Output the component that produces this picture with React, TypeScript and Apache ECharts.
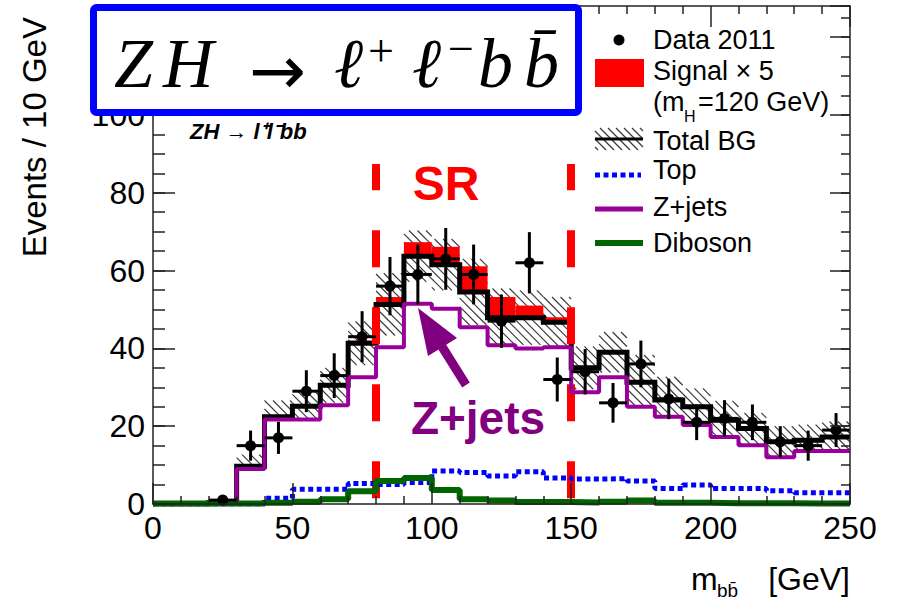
import React, { useEffect, useRef } from "react";
import * as echarts from "echarts";

// m_bb histogram, 10 GeV bins from 0 to 250 GeV
const binLow = [0, 10, 20, 30, 40, 50, 60, 70, 80, 90, 100, 110, 120, 130, 140, 150, 160, 170, 180, 190, 200, 210, 220, 230, 240];
const binWidth = 10;

const data2011 = [0, 0, 1, 15, 17, 29, 33, 43, 56, 59, 63, 59, 47, 62, 32, 34, 26, 36, 27, 21, 22, 21, 16, 15, 19];
const totalBG = [0, 0, 0.3, 9.7, 22.4, 25.1, 30.5, 41.3, 51.3, 63.7, 61.5, 54.5, 47.9, 47.9, 46.7, 35, 39, 31.3, 26.7, 25, 21.5, 19.4, 16, 16.4, 17.2];
const totalBGErr = [0, 0, 0.3, 3, 4.2, 4, 4.5, 5.6, 8, 6.6, 6.6, 8.5, 7.5, 7, 6.5, 5.5, 5.2, 7, 6, 4.7, 5, 4, 4, 4, 4];
const signalX5 = [0, 0, 0, 0, 0, 0, 0, 0.7, 1.9, 3.6, 4.6, 6.6, 5.3, 3.1, 1.3, 0, 0, 0, 0, 0, 0, 0, 0, 0, 0];
const zJets = [0, 0, 0, 9.0, 21.7, 21.7, 25.4, 32.6, 40.3, 51.5, 50.2, 45.4, 40.8, 40.0, 40.3, 28.7, 32.6, 25.0, 22.4, 20.3, 17.2, 15.1, 12.0, 13.6, 13.6];
const topBG = [0, 0, 0, 0, 1.5, 3.8, 3.8, 5.3, 5.0, 5.5, 8.5, 8.1, 7.2, 8.3, 6.7, 6.4, 6.5, 5.9, 4.0, 4.9, 4.0, 4.0, 3.4, 2.9, 2.9];
const diboson = [0.1, 0.1, 0.1, 0.1, 0.3, 0.6, 1.2, 3.3, 5.9, 6.7, 3.6, 1.2, 0.9, 0.5, 0.5, 0.4, 0.6, 0.9, 0.3, 0.3, 0.2, 0.2, 0.2, 0.1, 0.1];

// signal region boundaries (GeV) and the vertical span of their dashed markers
const srEdges = [80, 150];
const srSpan = [1.5, 87.4];

const FONT = "'Liberation Sans', Arial, Helvetica, sans-serif";
const SERIF = "'Liberation Serif', 'DejaVu Serif', serif";
const PURPLE = "#990099";
const GREEN = "#006400";
const BLUE = "#0000ff";
const RED = "#ff0000";
const AXIS = "#222";

function steps(vals: number[]): number[][] {
  const pts: number[][] = [];
  vals.forEach((v, i) => {
    pts.push([binLow[i], v]);
    pts.push([binLow[i] + binWidth, v]);
  });
  return pts;
}

// diagonal "\" hatching clipped to a pixel rectangle, anchored to a global grid
function hatchLines(xa: number, ya: number, xb: number, yb: number, step: number, style: any) {
  const out: any[] = [];
  const k0 = Math.ceil((xa - yb) / step);
  const k1 = Math.floor((xb - ya) / step);
  for (let k = k0; k <= k1; k++) {
    const c = k * step;
    const s = Math.max(xa, ya + c);
    const e = Math.min(xb, yb + c);
    if (e - s > 0.5) {
      out.push({ type: "line", shape: { x1: s, y1: s - c, x2: e, y2: e - c }, style });
    }
  }
  return out;
}

function txt(text: string, x: number, y: number, opts: any = {}) {
  const align = opts.align || "left";
  return {
    type: "text",
    z: 100,
    style: {
      text,
      x,
      y,
      fill: opts.fill || "#000",
      fontSize: opts.fontSize || 27,
      fontFamily: opts.fontFamily || FONT,
      fontStyle: opts.fontStyle || "normal",
      fontWeight: opts.fontWeight || "normal",
      align,
      textAlign: align,
      verticalAlign: "middle",
      textVerticalAlign: "middle",
    },
  };
}

function rotatedTitle(text: string, x: number, y: number, fontSize: number) {
  return {
    type: "text",
    z: 100,
    x,
    y,
    rotation: Math.PI / 2,
    style: {
      text,
      x: 0,
      y: 0,
      fill: "#000",
      fontSize,
      fontFamily: FONT,
      align: "right",
      textAlign: "right",
      verticalAlign: "middle",
      textVerticalAlign: "middle",
    },
  };
}

function buildOption() {
  const hatchStyle = { stroke: "#3a3a3a", lineWidth: 1.2 };

  const bandData = binLow.map((x, i) => [
    x,
    x + binWidth,
    Math.max(totalBG[i] - totalBGErr[i], zJets[i]),
    totalBG[i] + totalBGErr[i],
  ]);
  const signalData = binLow.map((x, i) => [x, x + binWidth, totalBG[i], totalBG[i] + signalX5[i]]);
  const pointData = binLow
    .map((x, i) => [x + binWidth / 2, data2011[i]])
    .filter((d) => d[1] > 0);

  const tickStyle = { color: AXIS, width: 1.5 };
  const baseX = {
    type: "value",
    min: 0,
    max: 250,
    interval: 50,
    z: 10,
    axisLine: { show: true, onZero: false, lineStyle: tickStyle },
    axisTick: { show: true, inside: true, length: 21, lineStyle: tickStyle },
    minorTick: { show: true, splitNumber: 5, length: 8, lineStyle: tickStyle },
    splitLine: { show: false },
    minorSplitLine: { show: false },
  };
  const baseY = {
    type: "value",
    min: 0,
    max: 128,
    z: 10,
    splitLine: { show: false },
  };

  const legendX0 = 595;
  const legendX1 = 643;
  const boxFont = { fontSize: 70, fontFamily: SERIF, fontStyle: "italic" };

  const graphic: any[] = [
    // title box
    {
      type: "rect",
      z: 90,
      shape: { x: 93.5, y: 7.5, width: 485, height: 105, r: 3 },
      style: { fill: "#fff", stroke: "#0000ff", lineWidth: 7 },
    },
    txt("Z", 114, 63, boxFont),
    txt("H", 163, 63, boxFont),
    txt("→", 249, 70, { fontSize: 68, fontFamily: "'DejaVu Sans', sans-serif" }),
    txt("ℓ", 334, 63, boxFont),
    txt("+", 381, 50, { fontSize: 46, fontFamily: SERIF, align: "center" }),
    txt("ℓ", 412, 63, boxFont),
    txt("−", 461, 48, { fontSize: 46, fontFamily: SERIF, align: "center" }),
    txt("b", 478, 63, boxFont),
    txt("b\u0304", 524, 63, boxFont),

    // process label inside the frame
    txt("ZH → l⁺l⁻bb", 190, 131, { fontSize: 22, fontStyle: "italic", fontWeight: "bold" }),

    // region annotations
    txt("SR", 446, 183, { fontSize: 48, fontWeight: "bold", fill: RED, align: "center" }),
    txt("Z+jets", 478, 418, { fontSize: 46, fontWeight: "bold", fill: "#800080", align: "center" }),
    {
      type: "line",
      z: 100,
      shape: { x1: 466, y1: 385, x2: 441, y2: 345 },
      style: { stroke: "#800080", lineWidth: 9 },
    },
    {
      type: "polygon",
      z: 100,
      shape: { points: [[418, 308], [457, 338], [428, 356]] },
      style: { fill: "#800080" },
    },

    // axis titles
    rotatedTitle("Events / 10 GeV", 34, 17, 33),
    txt("m", 691, 579, { fontSize: 32 }),
    txt("bb\u0304", 717, 590, { fontSize: 19 }),
    txt("[GeV]", 850, 579, { fontSize: 32, align: "right" }),

    // legend
    { type: "circle", z: 100, shape: { cx: 619, cy: 40, r: 5.5 }, style: { fill: "#000" } },
    txt("Data 2011", 653, 40),
    { type: "rect", z: 100, shape: { x: legendX0, y: 59, width: 49, height: 28 }, style: { fill: RED } },
    txt("Signal × 5", 653, 71),
    txt("(m", 653, 102),
    txt("H", 684, 116, { fontSize: 16 }),
    txt("=120 GeV)", 698, 102),
    ...hatchLines(legendX0, 128, legendX1, 150, 8, hatchStyle).map((l) => ({ ...l, z: 100 })),
    {
      type: "line",
      z: 100,
      shape: { x1: legendX0, y1: 139, x2: legendX1, y2: 139 },
      style: { stroke: "#000", lineWidth: 3 },
    },
    txt("Total BG", 653, 141),
    {
      type: "line",
      z: 100,
      shape: { x1: legendX0, y1: 175, x2: 641, y2: 175 },
      style: { stroke: BLUE, lineWidth: 5, lineDash: [5, 3.5] },
    },
    txt("Top", 653, 170),
    {
      type: "line",
      z: 100,
      shape: { x1: legendX0, y1: 209, x2: legendX1, y2: 209 },
      style: { stroke: PURPLE, lineWidth: 5 },
    },
    txt("Z+jets", 653, 206.5),
    {
      type: "line",
      z: 100,
      shape: { x1: legendX0, y1: 243, x2: legendX1, y2: 243 },
      style: { stroke: GREEN, lineWidth: 6 },
    },
    txt("Diboson", 653, 243),
  ];

  return {
    animation: false,
    textStyle: { fontFamily: FONT },
    grid: { left: 153, right: 48, top: 6, bottom: 99, containLabel: false },
    xAxis: [
      {
        ...baseX,
        position: "bottom",
        axisLabel: { show: true, fontSize: 32, color: "#000", margin: 8, fontFamily: FONT },
      },
      { ...baseX, position: "top", axisLabel: { show: false } },
    ],
    yAxis: [
      {
        ...baseY,
        position: "left",
        interval: 20,
        axisLine: { show: true, onZero: false, lineStyle: tickStyle },
        axisTick: { show: true, inside: true, length: 22, lineStyle: tickStyle },
        axisLabel: {
          show: true,
          fontSize: 32,
          color: "#000",
          margin: 8,
          fontFamily: FONT,
          // labels above 100 sit beneath the title box
          formatter: (v: number) => (v % 20 === 0 && v <= 100 ? String(v) : ""),
        },
      },
      {
        ...baseY,
        position: "left",
        interval: 5,
        axisLine: { show: false, onZero: false },
        axisTick: { show: true, inside: true, length: 12, lineStyle: tickStyle },
        axisLabel: { show: false },
      },
      {
        ...baseY,
        position: "right",
        interval: 20,
        axisLine: { show: true, onZero: false, lineStyle: tickStyle },
        axisTick: { show: true, inside: true, length: 20, lineStyle: tickStyle },
        axisLabel: { show: false },
      },
      {
        ...baseY,
        position: "right",
        interval: 5,
        axisLine: { show: false, onZero: false },
        axisTick: { show: true, inside: true, length: 9, lineStyle: tickStyle },
        axisLabel: { show: false },
      },
    ],
    series: [
      {
        name: "Total BG uncertainty",
        type: "custom",
        z: 1,
        data: bandData,
        encode: { x: [0, 1], y: [2, 3] },
        renderItem: (_p: any, api: any) => {
          const x0 = api.value(0);
          const x1 = api.value(1);
          const lo = api.value(2);
          const hi = api.value(3);
          if (hi - lo <= 0) return null;
          const a = api.coord([x0, hi]);
          const b = api.coord([x1, lo]);
          return { type: "group", children: hatchLines(a[0], a[1], b[0], b[1], 8.5, hatchStyle) };
        },
      },
      {
        name: "Signal × 5",
        type: "custom",
        z: 3,
        data: signalData,
        encode: { x: [0, 1], y: [2, 3] },
        renderItem: (_p: any, api: any) => {
          const lo = api.value(2);
          const hi = api.value(3);
          if (hi - lo <= 0) return null;
          const a = api.coord([api.value(0), hi]);
          const b = api.coord([api.value(1), lo]);
          return {
            type: "rect",
            shape: { x: a[0], y: a[1], width: b[0] - a[0], height: b[1] - a[1] },
            style: { fill: RED },
          };
        },
      },
      {
        name: "Total BG",
        type: "line",
        z: 4,
        data: steps(totalBG),
        showSymbol: false,
        symbol: "none",
        lineStyle: { color: "#000", width: 5, join: "miter" },
      },
      {
        name: "Z+jets",
        type: "line",
        z: 5,
        data: steps(zJets),
        showSymbol: false,
        symbol: "none",
        lineStyle: { color: PURPLE, width: 4 },
      },
      {
        name: "Top",
        type: "line",
        z: 5,
        data: steps(topBG),
        showSymbol: false,
        symbol: "none",
        lineStyle: { color: BLUE, width: 5, type: [5, 3.5] },
      },
      {
        name: "Diboson",
        type: "line",
        z: 5,
        clip: false,
        data: steps(diboson),
        showSymbol: false,
        symbol: "none",
        lineStyle: { color: GREEN, width: 6 },
      },
      {
        name: "Data 2011",
        type: "custom",
        z: 6,
        data: pointData,
        encode: { x: 0, y: 1 },
        renderItem: (_p: any, api: any) => {
          const x = api.value(0);
          const n = api.value(1);
          const err = Math.sqrt(n);
          const c = api.coord([x, n]);
          const t = api.coord([x, n + err]);
          const btm = api.coord([x, Math.max(0, n - err)]);
          const l = api.coord([x - binWidth / 2, n]);
          const r = api.coord([x + binWidth / 2, n]);
          const st = { stroke: "#000", lineWidth: 3 };
          return {
            type: "group",
            children: [
              { type: "line", shape: { x1: t[0], y1: t[1], x2: btm[0], y2: btm[1] }, style: st },
              { type: "line", shape: { x1: l[0], y1: l[1], x2: r[0], y2: r[1] }, style: st },
              { type: "circle", shape: { cx: c[0], cy: c[1], r: 5.5 }, style: { fill: "#000" } },
            ],
          };
        },
      },
      {
        name: "SR",
        type: "line",
        z: 8,
        data: [[srEdges[0], srSpan[0]]],
        showSymbol: false,
        symbol: "none",
        lineStyle: { opacity: 0 },
        markLine: {
          silent: true,
          animation: false,
          symbol: ["none", "none"],
          label: { show: false },
          lineStyle: { color: RED, width: 8, type: [37, 40], opacity: 1 },
          data: srEdges.map((e) => [{ coord: [e, srSpan[0]] }, { coord: [e, srSpan[1]] }]),
        },
      },
    ],
    graphic: { elements: graphic },
  };
}

export default function App() {
  const ref = useRef<HTMLDivElement>(null);
  useEffect(() => {
    if (!ref.current) return;
    const chart = echarts.init(ref.current, null, { renderer: "svg" });
    chart.setOption(buildOption() as any);
    return () => chart.dispose();
  }, []);
  return (
    <div
      ref={ref}
      style={{ position: "absolute", left: 0, top: 0, width: 898, height: 603, background: "#fff" }}
    />
  );
}
